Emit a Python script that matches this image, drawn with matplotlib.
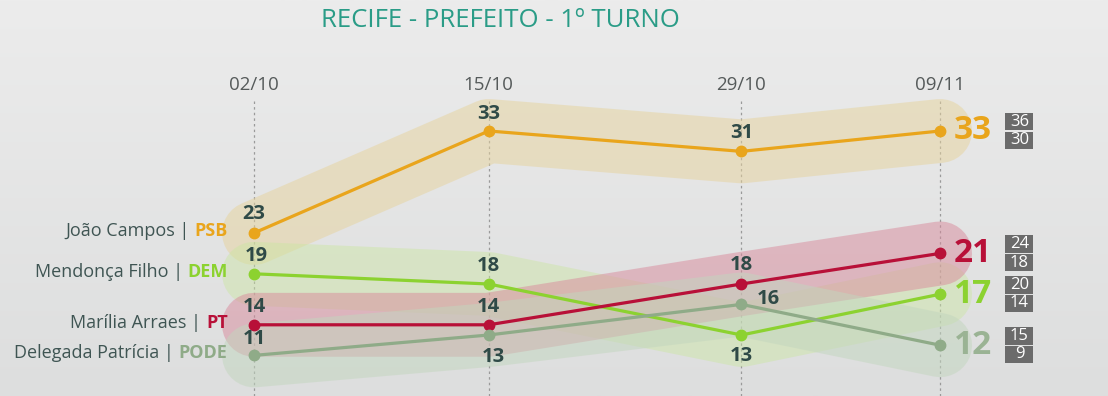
#! /usr/bin/env python
"""
Recife - Prefeito - 1o turno: poll evolution chart.
"""

import matplotlib
matplotlib.use("Agg")
import matplotlib.pyplot as plt
import numpy as np
from matplotlib.patches import Rectangle
from matplotlib.colors import LinearSegmentedColormap

plt.rcParams['font.family'] = ['Open Sans', 'DejaVu Sans']

# Data
dates = ['2020-10-02', '2020-10-15', '2020-10-29', '2020-11-09']
date_labels = ['02/10', '15/10', '29/10', '09/11']

names = ['João Campos', 'Mendonça Filho', 'Marília Arraes', 'Delegada Patrícia']
parties = ['PSB', 'DEM', 'PT', 'PODE']

campos = [23, 33, 31, 33]
mendonca = [19, 18, 13, 17]
marilia = [14, 14, 18, 21]
patricia = [11, 13, 16, 12]

# upper / lower bound of the last poll
upper = [36, 20, 24, 15]
lower = [30, 14, 18, 9]

series = [campos, mendonca, marilia, patricia]

# styles
line_colors = ['#e9a51c', '#8cd230', '#b81038', '#8fab88']
final_colors = ['#e9a51c', '#8cd230', '#b81038', '#9ab394']
band_colors = ['#e6d39c', '#cbe6a2', '#d98a9c', '#c2d6be']
band_alpha = [0.5, 0.45, 0.5, 0.5]
label_color = '#2f4a47'
name_color = '#3f5553'

# label offsets (points) for each value: (dx, dy)
offsets = [
    [(0, 14), (0, 12), (0, 13), None],
    [(2, 13), (0, 13), (0, -15), None],
    [(0, 13), (0, 13), (0, 14), None],
    [(0, 12), (3, -16), (19, 4), None],
]

days = (np.array(dates, dtype='datetime64[D]') -
        np.datetime64(dates[0], 'D')).astype(float)

fig = plt.figure(figsize=(11.08, 3.96), dpi=100)
ax = fig.add_axes([0, 0, 1, 1])
xmin, xmax, ymin, ymax = -14.07, 47.3, 7.02, 45.84
ax.set_xlim(xmin, xmax)
ax.set_ylim(ymin, ymax)
ax.axis('off')

# background gradient
grad = np.linspace(0, 1, 256).reshape(-1, 1)
ax.imshow(grad, extent=(xmin, xmax, ymin, ymax), aspect='auto',
          cmap=LinearSegmentedColormap.from_list('bg', ['#dddede', '#ececec']),
          origin='lower', zorder=0)

fig.text(0.452, 0.948, 'RECIFE - PREFEITO - 1º TURNO', color='#2a9c87',
         fontsize=18.5, ha='center', va='center')

# date labels and dotted guides
for d, lab in zip(days, date_labels):
    ax.text(d, 37.5, lab, color='#555a5a', fontsize=13.5, ha='center', va='center')
    ax.vlines(d, ymin, 36.0, color='#9a9a9a', lw=0.9, linestyles=(0, (2, 2.5)),
              zorder=1)

# confidence bands
for vals, c, a in zip(series, band_colors, band_alpha):
    ax.plot(days, vals, color=c, alpha=a, lw=46, solid_capstyle='round',
            solid_joinstyle='round', zorder=2)

# lines
for vals, c in zip(series, line_colors):
    ax.plot(days, vals, color=c, lw=2.3, marker='o', ms=7.5, zorder=4)

# value labels
for vals, offs in zip(series, offsets):
    for d, v, o in zip(days, vals, offs):
        if o is None:
            continue
        ax.annotate(str(v), (d, v), xytext=o, textcoords='offset points',
                    ha='center', va='center', fontsize=14.5, fontweight='bold',
                    color=label_color, zorder=5)

# final values and bound boxes
box_w = 1.55
box_h = 1.7
gap = 0.12
for vals, c, up, lo in zip(series, final_colors, upper, lower):
    ax.annotate(str(vals[-1]), (days[-1], vals[-1]), xytext=(10, 0),
                textcoords='offset points', ha='left', va='center',
                fontsize=24, fontweight='bold', color=c, zorder=5)
    x0 = days[-1] + 3.62
    for y0, num in [(vals[-1] + gap / 2, up), (vals[-1] - gap / 2 - box_h, lo)]:
        ax.add_patch(Rectangle((x0, y0), box_w, box_h, facecolor='#6b6b6b',
                               edgecolor='none', zorder=5))
        ax.text(x0 + box_w / 2, y0 + box_h / 2, str(num), color='white',
                fontsize=12, ha='center', va='center', zorder=6)

# left names with party
for vals, name, party, c in zip(series, names, parties, line_colors):
    pt = ax.annotate(party, (days[0], vals[0]), xytext=(-19, 1.5),
                     textcoords='offset points', ha='right', va='center',
                     fontsize=13, fontweight='bold', color=c, zorder=5)
    ax.annotate(name + ' | ', (0, 0), xycoords=pt, ha='right', va='bottom',
                fontsize=13, color=name_color, zorder=5)

fig.savefig('out.png', dpi=100)
